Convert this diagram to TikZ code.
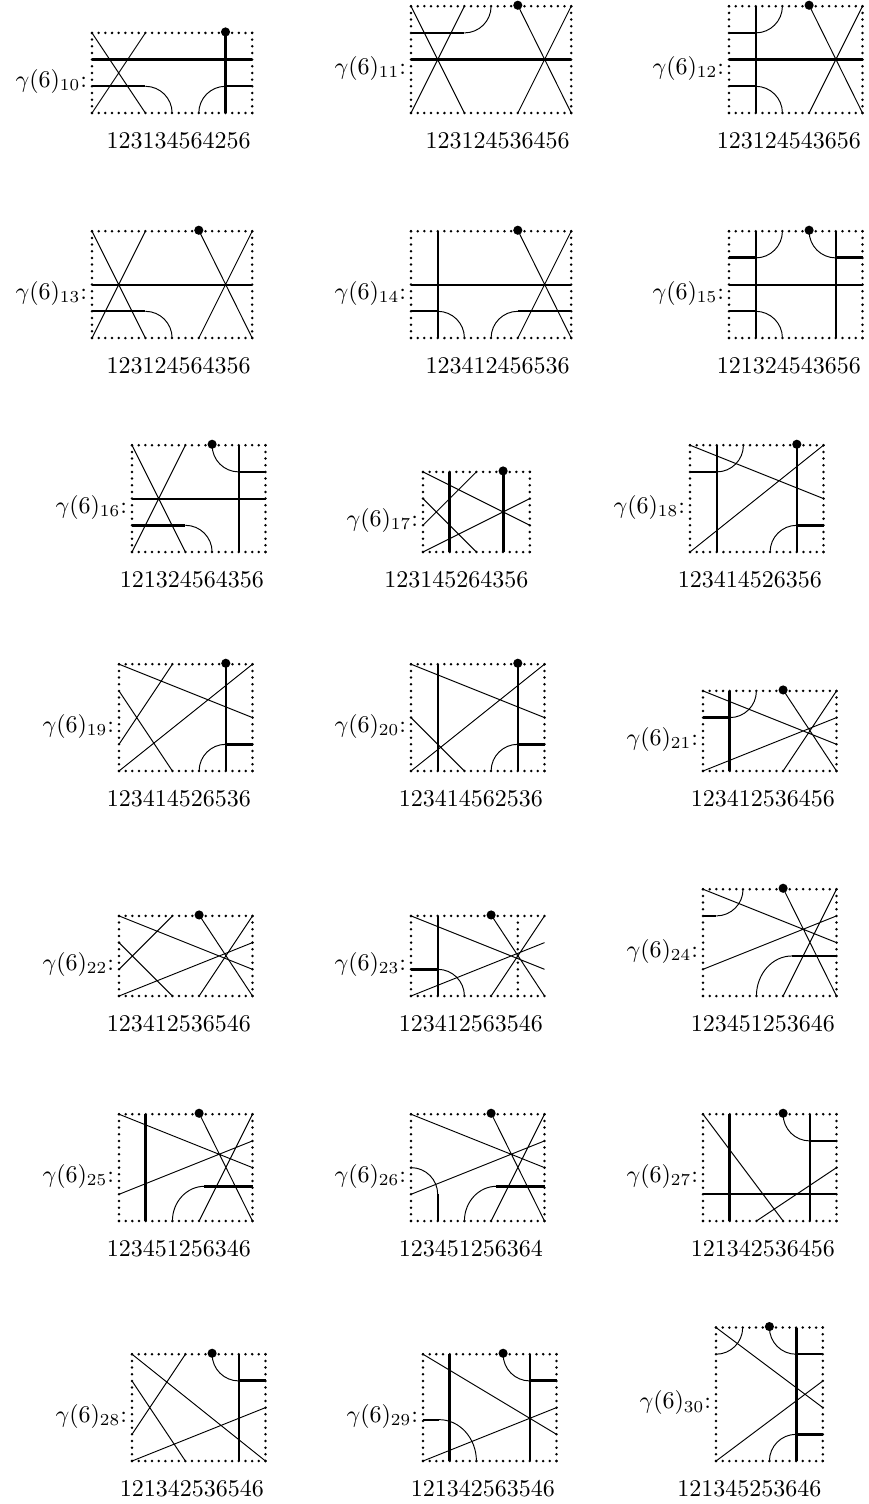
\documentclass[tikz,border=0pt]{standalone}
\usepackage{tikz}
\tikzset{
  dotframe/.style={line width=1.15pt,line cap=round,dash pattern=on 0pt off 2.781pt},
  chord/.style={line width=.4pt},
  bar/.style={line width=.85pt},
  heavy/.style={line width=1.25pt},
  root/.style={circle,fill,inner sep=0pt,minimum size=3.8pt,yshift=.4pt},
  tag/.style={anchor=base east,inner sep=0pt},
  word/.style={anchor=base east,inner sep=0pt}
}
% [right side moved in by] left, bottom (px), width, height, index, word, root x, chords
\newcommand{\chordpanel}[9][0]{
  \begin{scope}[shift={(#2*0.41667pt,-#3*0.41667pt)}]
    \draw[dotframe] (0,0) -- (#4,0);
    \draw[dotframe] (0,#5) -- (#4,#5);
    \draw[dotframe] (0,0) -- (0,#5);
    \draw[dotframe] (#4-#1,0) -- (#4-#1,#5);
    \node[root] (root#6) at (#8,#5) {};
    \node[tag] (tag#6) at (-.17,#5/2-.54) {$\gamma(6)_{#6}{:}$};
    \node[word] (word#6) at (#4-.04,-1.33) {#7};
    #9
  \end{scope}
}

\begin{document}
\begin{tikzpicture}[x=11.125pt,y=11.125pt]
  \useasboundingbox (0,0) rectangle (361.67pt,-626.67pt);

  \chordpanel{92}{113}{6}{3}{10}{123134564256}{5}{
    \draw[chord] (0,3) -- (2,0) (0,0) -- (2,3);
    \draw[chord] (2,1) arc (90:0:1) (4,0) arc (180:90:1);
    \draw[bar] (0,1) -- (2,1) (5,1) -- (6,1);
    \draw[heavy] (0,2) -- (6,2) (root10.center) -- (5,0);
  }
  \chordpanel{411}{113}{6}{4}{11}{123124536456}{4}{
    \draw[chord] (0,4) -- (2,0) (0,0) -- (2,4) (root11.center) -- (6,0) (4,0) -- (6,4);
    \draw[chord] (2,3) arc (-90:0:1);
    \draw[bar] (0,3) -- (2,3);
    \draw[heavy] (0,2) -- (6,2);
  }
  \chordpanel{729}{113}{5}{4}{12}{123124543656}{3}{
    \draw[chord] (root12.center) -- (5,0) (3,0) -- (5,4);
    \draw[chord] (1,3) arc (-90:0:1) (1,1) arc (90:0:1);
    \draw[bar] (1,0) -- (1,4) (0,3) -- (1,3) (0,1) -- (1,1);
    \draw[heavy] (0,2) -- (5,2);
  }

  \chordpanel{92}{338}{6}{4}{13}{123124564356}{4}{
    \draw[chord] (0,4) -- (2,0) (0,0) -- (2,4) (root13.center) -- (6,0) (4,0) -- (6,4);
    \draw[chord] (2,1) arc (90:0:1);
    \draw[bar] (0,2) -- (6,2) (0,1) -- (2,1);
  }
  \chordpanel{411}{338}{6}{4}{14}{123412456536}{4}{
    \draw[chord] (root14.center) -- (6,0) (4,0) -- (6,4);
    \draw[chord] (1,1) arc (90:0:1) (3,0) arc (180:90:1);
    \draw[bar] (1,0) -- (1,4) (0,2) -- (6,2) (0,1) -- (1,1) (4,1) -- (6,1);
  }
  \chordpanel{729}{338}{5}{4}{15}{121324543656}{3}{
    \draw[chord] (1,3) arc (-90:0:1) (3,4) arc (180:270:1) (1,1) arc (90:0:1);
    \draw[bar] (1,0) -- (1,4) (4,0) -- (4,4) (0,2) -- (5,2) (0,1) -- (1,1);
    \draw[heavy] (0,3) -- (1,3) (4,3) -- (5,3);
  }

  \chordpanel{132}{552}{5}{4}{16}{121324564356}{3}{
    \draw[chord] (0,4) -- (2,0) (0,0) -- (2,4);
    \draw[chord] (3,4) arc (180:270:1) (2,1) arc (90:0:1);
    \draw[bar] (4,0) -- (4,4) (0,2) -- (5,2) (4,3) -- (5,3);
    \draw[heavy] (0,1) -- (2,1);
  }
  \chordpanel{423}{552}{4}{3}{17}{123145264356}{3}{
    \draw[chord] (0,3) -- (4,1) (0,0) -- (4,2) (0,2) -- (2,0) (0,1) -- (2,3);
    \draw[heavy] (1,0) -- (1,3) (root17.center) -- (3,0);
  }
  \chordpanel{690}{552}{5}{4}{18}{123414526356}{4}{
    \draw[chord] (0,4) -- (5,2) (0,0) -- (5,4);
    \draw[chord] (1,3) arc (-90:0:1) (3,0) arc (180:90:1);
    \draw[bar] (1,0) -- (1,4) (0,3) -- (1,3) (root18.center) -- (4,0);
    \draw[heavy] (4,1) -- (5,1);
  }

  \chordpanel{119}{771}{5}{4}{19}{123414526536}{4}{
    \draw[chord] (0,4) -- (5,2) (0,0) -- (5,4) (2,4) -- (0,1) (0,3) -- (2,0);
    \draw[chord] (3,0) arc (180:90:1);
    \draw[bar] (root19.center) -- (4,0);
    \draw[heavy] (4,1) -- (5,1);
  }
  \chordpanel{411}{771}{5}{4}{20}{123414562536}{4}{
    \draw[chord] (0,4) -- (5,2) (0,0) -- (5,4) (0,2) -- (2,0);
    \draw[chord] (3,0) arc (180:90:1);
    \draw[bar] (1,0) -- (1,4) (root20.center) -- (4,0);
    \draw[heavy] (4,1) -- (5,1);
  }
  \chordpanel{703}{771}{5}{3}{21}{123412536456}{3}{
    \draw[chord] (0,3) -- (5,1) (0,0) -- (5,2) (root21.center) -- (5,0) (3,0) -- (5,3);
    \draw[chord] (1,2) arc (-90:0:1);
    \draw[heavy] (1,0) -- (1,3) (0,2) -- (1,2);
  }

  \chordpanel{119}{996}{5}{3}{22}{123412536546}{3}{
    \draw[chord] (0,3) -- (5,1) (0,0) -- (5,2) (0,2) -- (2,0) (0,1) -- (2,3);
    \draw[chord] (root22.center) -- (5,0) (3,0) -- (5,3);
  }
  \chordpanel[1]{411}{996}{5}{3}{23}{123412563546}{3}{
    \draw[chord] (0,3) -- (5,1) (0,0) -- (5,2) (root23.center) -- (5,0) (3,0) -- (5,3);
    \draw[chord] (1,1) arc (90:0:1);
    \draw[bar] (1,0) -- (1,3);
    \draw[heavy] (0,1) -- (1,1);
  }
  \chordpanel{703}{996}{5}{4}{24}{123451253646}{3}{
    \draw[chord] (0,4) -- (5,2) (0,1) -- (5,3) (root24.center) -- (5,0) (3,0) -- (5,4);
    \draw[chord] (.5,3) arc (-90:0:1) (2,0) arc (180:90:1.33 and 1.5);
    \draw[bar] (0,3) -- (.5,3) (3.33,1.5) -- (5,1.5);
  }

  \chordpanel{119}{1221}{5}{4}{25}{123451256346}{3}{
    \draw[chord] (0,4) -- (5,2) (0,1) -- (5,3) (root25.center) -- (5,0) (3,0) -- (5,4);
    \draw[chord] (2,0) arc (180:90:1.2 and 1.3);
    \draw[heavy] (1,0) -- (1,4) (3.2,1.3) -- (5,1.3);
  }
  \chordpanel{411}{1221}{5}{4}{26}{123451256364}{3}{
    \draw[chord] (0,4) -- (5,2) (0,1) -- (5,3) (root26.center) -- (5,0) (3,0) -- (5,4);
    \draw[chord] (0,2) arc (90:0:1) (2,0) arc (180:90:1.2 and 1.3);
    \draw[bar] (1,1) -- (1,0);
    \draw[heavy] (3.2,1.3) -- (5,1.3);
  }
  \chordpanel{703}{1221}{5}{4}{27}{121342536456}{3}{
    \draw[chord] (0,4) -- (3,0) (2,0) -- (5,2);
    \draw[chord] (3,4) arc (180:270:1);
    \draw[bar] (4,0) -- (4,4) (4,3) -- (5,3) (0,1) -- (5,1);
    \draw[heavy] (1,0) -- (1,4);
  }

  \chordpanel{132}{1461}{5}{4}{28}{121342536546}{3}{
    \draw[chord] (0,4) -- (5,0) (0,3) -- (2,0) (0,1) -- (2,4) (0,0) -- (5,2);
    \draw[chord] (3,4) arc (180:270:1);
    \draw[bar] (4,0) -- (4,4);
    \draw[heavy] (4,3) -- (5,3);
  }
  \chordpanel{423}{1461}{5}{4}{29}{121342563546}{3}{
    \draw[chord] (0,4) -- (5,1) (0,0) -- (5,2);
    \draw[chord] (3,4) arc (180:270:1) (.6,1.55) arc (90:0:1.4 and 1.55);
    \draw[bar] (4,0) -- (4,4) (0,1.55) -- (.6,1.55);
    \draw[heavy] (1,0) -- (1,4) (4,3) -- (5,3);
  }
  \chordpanel{716}{1461}{4}{5}{30}{121345253646}{2}{
    \draw[chord] (0,5) -- (4,2) (0,0) -- (4,3);
    \draw[chord] (0,4) arc (-90:0:1) (2,5) arc (180:270:1) (2,0) arc (180:90:1);
    \draw[bar] (3,4) -- (4,4);
    \draw[heavy] (3,0) -- (3,5) (3,1) -- (4,1);
  }
\end{tikzpicture}
\end{document}
